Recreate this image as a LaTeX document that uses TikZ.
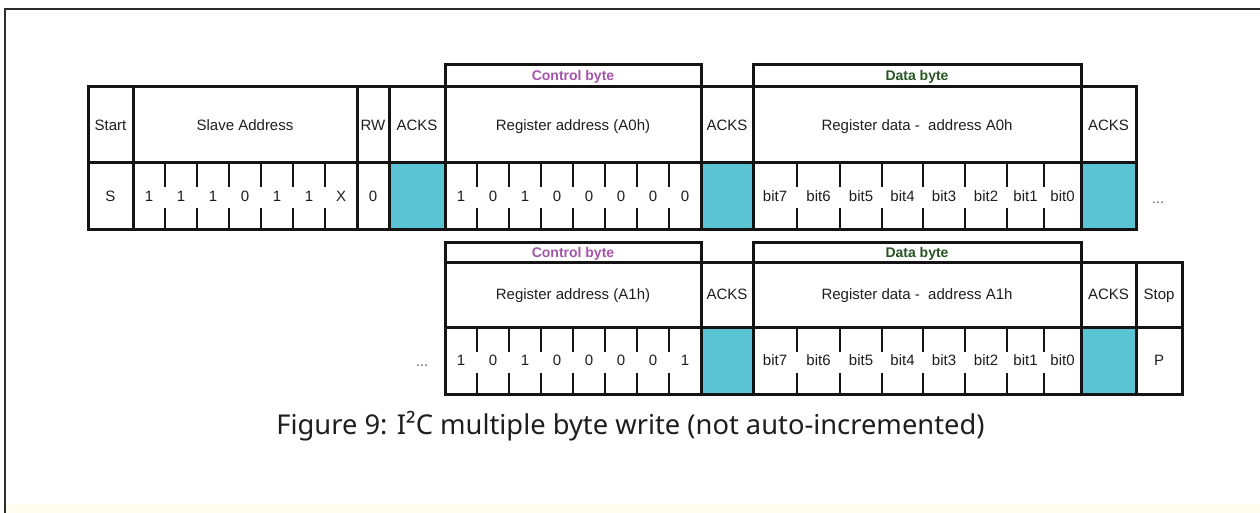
\documentclass[tikz,border=0pt]{standalone}
\usepackage{fontspec}
\setmainfont{Liberation Sans}
\newfontfamily\capfont{Noto Sans}
\definecolor{ackfill}{RGB}{90,196,212}
\definecolor{ctrlpurple}{RGB}{165,85,170}
\definecolor{datagreen}{RGB}{40,85,35}
\definecolor{rule}{RGB}{20,20,20}
\definecolor{framegray}{RGB}{45,45,45}
\definecolor{cream}{RGB}{255,253,240}
\definecolor{ink}{RGB}{30,30,30}
\tikzset{
  cellfont/.style={font=\fontsize{15}{18}\selectfont, text=ink, text height=10.7pt, text depth=0pt},
  cellbox/.style={draw=rule, line width=3, inner sep=0, outer sep=0, cellfont},
  ackcell/.style={cellbox, fill=ackfill},
  bitcell/.style={inner sep=0, outer sep=0, cellfont},
  bracketbox/.style={draw=rule, line width=3, inner sep=0, outer sep=0,
    font=\bfseries\fontsize{14}{16}\selectfont, text height=10pt, text depth=0pt},
  tick/.style={draw=rule, line width=2},
  dots/.style={font=\fontsize{15}{18}\selectfont, text=black!60, inner sep=0, anchor=base},
}
\begin{document}
\begin{tikzpicture}[x=1pt,y=-1pt]
\useasboundingbox (0,0) rectangle (1260,513);
\fill[white] (0,0) rectangle (1260,513);
\fill[cream] (6,504) rectangle (1260,513);
% page frame (top and left edges)
\draw[framegray, line width=2] (5,513) -- (5,9) -- (1260,9);

% ---------- first frame: start, slave address, register A0h, data ----------
% field headers
\node[cellbox, minimum width=45,  minimum height=76] (start)  at (110.5,125) {Start};
\node[cellbox, minimum width=224, minimum height=76] (slave)  at (245,125)   {Slave Address};
\node[cellbox, minimum width=32,  minimum height=76] (rw)     at (373,125)   {RW};
\node[cellbox, minimum width=56,  minimum height=76] (acka)   at (417,125)   {ACKS};
\node[cellbox, minimum width=256, minimum height=76] (rega)   at (573,125)   {Register address (A0h)};
\node[cellbox, minimum width=52,  minimum height=76] (ackb)   at (727,125)   {ACKS};
\node[cellbox, minimum width=328, minimum height=76] (dataa)  at (917,125)   {Register data -\ \ address A0h};
\node[cellbox, minimum width=55,  minimum height=76] (ackc)   at (1108.5,125){ACKS};
% bit rows
\node[cellbox, minimum width=45,  minimum height=66] (startbit) at (110.5,196) {S};
\node[cellbox, minimum width=224, minimum height=66] (slavebits) at (245,196) {};
\node[cellbox, minimum width=32,  minimum height=66] (rwbit)   at (373,196) {0};
\node[ackcell, minimum width=56,  minimum height=66] (ackabit) at (417,196) {};
\node[cellbox, minimum width=256, minimum height=66] (regabits) at (573,196) {};
\node[ackcell, minimum width=52,  minimum height=66] (ackbbit) at (727,196) {};
\node[cellbox, minimum width=328, minimum height=66] (dataabits) at (917,196) {};
\node[ackcell, minimum width=55,  minimum height=66] (ackcbit) at (1108.5,196) {};
% brackets
\node[bracketbox, text=ctrlpurple, minimum width=256, minimum height=22] (ctrla) at (573,76) {Control byte};
\node[bracketbox, text=datagreen,  minimum width=328, minimum height=22] (bytea) at (917,76) {Data byte};
% slave address bits
\foreach \v [count=\i] in {1,1,1,0,1,1,X}
  \node[bitcell, minimum width=32, minimum height=66] (sa\i) at ({117+32*\i},196) {\v};
\foreach \i in {1,...,6} {
  \draw[tick] (sa\i.north east) -- ++(0,24);
  \draw[tick] (sa\i.south east) -- ++(0,-21);
}
% register address bits
\foreach \v [count=\i] in {1,0,1,0,0,0,0,0}
  \node[bitcell, minimum width=32, minimum height=66] (ra\i) at ({429+32*\i},196) {\v};
\foreach \i in {1,...,7} {
  \draw[tick] (ra\i.north east) -- ++(0,24);
  \draw[tick] (ra\i.south east) -- ++(0,-21);
}
% data bits
\foreach \l/\r/\t [count=\i] in {753/797/bit7,797/840/bit6,840/882/bit5,882/923/bit4,923/965/bit3,965/1007/bit2,1007/1044/bit1,1044/1081/bit0}
  \node[bitcell, minimum width={(\r-\l)*1pt}, minimum height=66] (da\i) at ({(\l+\r)/2},196) {\t};
\foreach \i in {1,...,7} {
  \draw[tick] (da\i.north east) -- ++(0,24);
  \draw[tick] (da\i.south east) -- ++(0,-21);
}
\node[dots] (morea) at (1158,204) {...};

% ---------- second frame: register A1h, data, stop ----------
\node[cellbox, minimum width=256, minimum height=65] (regb)   at (573,294.5)    {Register address (A1h)};
\node[cellbox, minimum width=52,  minimum height=65] (ackd)   at (727,294.5)    {ACKS};
\node[cellbox, minimum width=328, minimum height=65] (datab)  at (917,294.5)    {Register data -\ \ address A1h};
\node[cellbox, minimum width=55,  minimum height=65] (acke)   at (1108.5,294.5) {ACKS};
\node[cellbox, minimum width=46,  minimum height=65] (stop)   at (1159,294.5)   {Stop};
\node[cellbox, minimum width=256, minimum height=67] (regbbits)  at (573,360.5) {};
\node[ackcell, minimum width=52,  minimum height=67] (ackdbit)   at (727,360.5) {};
\node[cellbox, minimum width=328, minimum height=67] (databbits) at (917,360.5) {};
\node[ackcell, minimum width=55,  minimum height=67] (ackebit)   at (1108.5,360.5) {};
\node[cellbox, minimum width=46,  minimum height=67] (stopbit)   at (1159,360.5) {P};
\node[bracketbox, text=ctrlpurple, minimum width=256, minimum height=20] (ctrlb) at (573,252) {Control byte};
\node[bracketbox, text=datagreen,  minimum width=328, minimum height=20] (byteb) at (917,252) {Data byte};
\foreach \v [count=\i] in {1,0,1,0,0,0,0,1}
  \node[bitcell, minimum width=32, minimum height=67] (rb\i) at ({429+32*\i},360.5) {\v};
\foreach \i in {1,...,7} {
  \draw[tick] (rb\i.north east) -- ++(0,25);
  \draw[tick] (rb\i.south east) -- ++(0,-21);
}
\foreach \l/\r/\t [count=\i] in {753/797/bit7,797/840/bit6,840/882/bit5,882/923/bit4,923/965/bit3,965/1007/bit2,1007/1044/bit1,1044/1081/bit0}
  \node[bitcell, minimum width={(\r-\l)*1pt}, minimum height=67] (db\i) at ({(\l+\r)/2},360.5) {\t};
\foreach \i in {1,...,7} {
  \draw[tick] (db\i.north east) -- ++(0,25);
  \draw[tick] (db\i.south east) -- ++(0,-21);
}
\node[dots] (moreb) at (422,366) {...};

% caption
\node[font=\capfont\fontsize{27.3}{32}\selectfont, text=ink, inner sep=0, anchor=base] (caption)
  at (630.5,434) {Figure 9: I²C multiple byte write (not auto-incremented)};
\end{tikzpicture}
\end{document}
